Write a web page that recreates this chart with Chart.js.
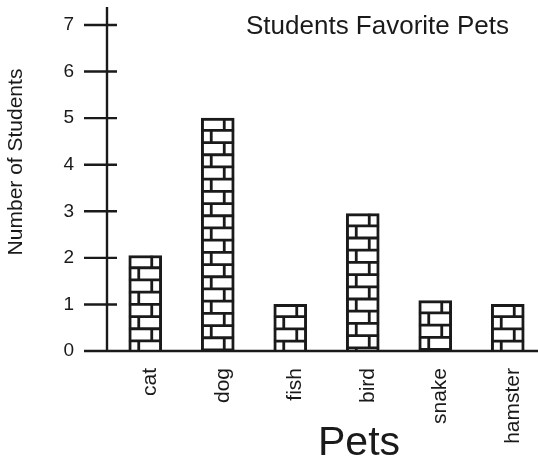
<!DOCTYPE html>
<html lang="en">
<head>
    <meta charset="UTF-8">
    <title>Students Favorite Pets</title>
    <script src="https://cdn.jsdelivr.net/npm/chart.js"></script>
    <style>
        html, body { margin: 0; padding: 0; background: #fff; overflow: hidden; }
    </style>
</head>
<body>
    <canvas id="petsChart" width="546" height="465"></canvas>

    <script>
        const pets = ['cat', 'dog', 'fish', 'bird', 'snake', 'hamster'];
        const students = [2.05, 5, 1, 2.95, 1.08, 1];
        const yTicks = [0, 1, 2, 3, 4, 5, 6, 7];

        const ink = '#1a1a1a';
        const family = '"Liberation Sans", Arial, sans-serif';

        // axis lines with cross ticks, brick pattern in the bars, titles
        const extras = {
            id: 'extras',
            afterDatasetsDraw(chart) {
                let ctx = chart.ctx;
                let y = chart.scales.y;
                let axisX = chart.chartArea.left - 2;
                let zeroY = y.getPixelForValue(0);
                let rowH = 12.2;

                ctx.save();
                ctx.strokeStyle = ink;

                chart.getDatasetMeta(0).data.forEach(bar => {
                    let left = bar.x - bar.width / 2;
                    let right = bar.x + bar.width / 2;
                    let top = bar.y;
                    let bottom = bar.base;
                    ctx.save();
                    ctx.beginPath();
                    ctx.rect(left, top, bar.width, bottom - top);
                    ctx.clip();
                    ctx.lineWidth = 2.8;
                    for (let k = 0; top + k * rowH < bottom; k++) {
                        let ry = top + k * rowH;
                        if (k > 0) {
                            ctx.beginPath();
                            ctx.moveTo(left, ry);
                            ctx.lineTo(right, ry);
                            ctx.stroke();
                        }
                        let jx = left + (k % 2 === 0 ? 23 : 10);
                        ctx.beginPath();
                        ctx.moveTo(jx, ry);
                        ctx.lineTo(jx, ry + rowH);
                        ctx.stroke();
                    }
                    ctx.restore();
                });

                ctx.lineWidth = 2.4;
                ctx.beginPath();
                ctx.moveTo(axisX - 23, zeroY);
                ctx.lineTo(chart.width, zeroY);
                ctx.moveTo(axisX, zeroY);
                ctx.lineTo(axisX, y.getPixelForValue(7) - 18);
                yTicks.forEach(v => {
                    let py = y.getPixelForValue(v);
                    ctx.moveTo(axisX - 23, py);
                    ctx.lineTo(axisX + 10, py);
                });
                ctx.stroke();
                ctx.restore();
            },
            afterDraw(chart) {
                let ctx = chart.ctx;
                ctx.save();
                ctx.fillStyle = ink;
                ctx.textBaseline = 'alphabetic';

                ctx.font = '26px ' + family;
                ctx.textAlign = 'left';
                ctx.fillText('Students Favorite Pets', 246, 34);

                ctx.font = '41px ' + family;
                ctx.textAlign = 'center';
                ctx.fillText('Pets', 359, 455);

                ctx.translate(16, 162);
                ctx.rotate(-Math.PI / 2);
                ctx.font = '21px ' + family;
                ctx.textBaseline = 'middle';
                ctx.fillText('Number of Students', 0, 0);
                ctx.restore();
            }
        };

        new Chart(document.getElementById('petsChart'), {
            type: 'bar',
            data: {
                labels: pets,
                datasets: [{
                    data: students,
                    backgroundColor: '#ffffff',
                    borderColor: ink,
                    borderWidth: 3,
                    barThickness: 33
                }]
            },
            options: {
                responsive: false,
                animation: false,
                layout: { padding: { top: 25, right: 2, left: 0, bottom: 0 } },
                plugins: {
                    legend: { display: false },
                    tooltip: { enabled: false }
                },
                scales: {
                    x: {
                        grid: { display: false },
                        border: { display: false },
                        ticks: {
                            autoSkip: false,
                            minRotation: 90,
                            maxRotation: 90,
                            padding: 9,
                            labelOffset: 5,
                            color: ink,
                            font: { family: family, size: 21 }
                        },
                        afterFit(scale) { scale.height = 114; }
                    },
                    y: {
                        min: 0,
                        max: 7,
                        grid: {
                            drawOnChartArea: false,
                            drawTicks: true,
                            tickLength: 35,
                            tickColor: 'rgba(0,0,0,0)'
                        },
                        border: { display: false },
                        afterBuildTicks(scale) {
                            scale.ticks = yTicks.map(v => ({ value: v }));
                        },
                        ticks: {
                            padding: 0,
                            color: ink,
                            font: { family: family, size: 19 }
                        },
                        afterFit(scale) { scale.width = 109; }
                    }
                }
            },
            plugins: [extras]
        });
    </script>
</body>
</html>
